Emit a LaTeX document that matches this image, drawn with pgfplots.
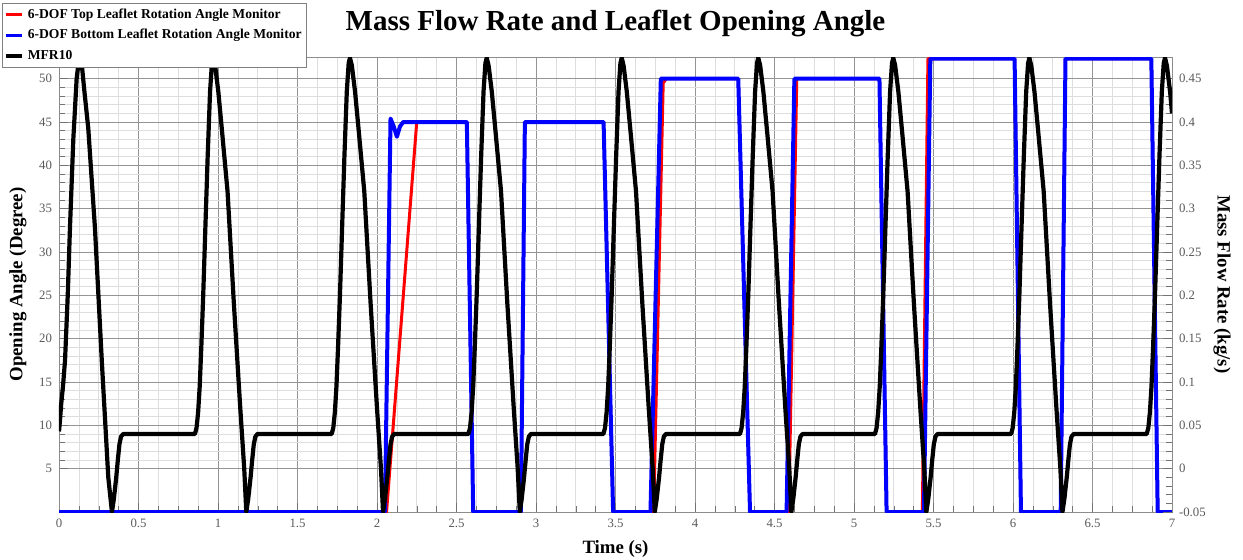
\documentclass[border=0pt]{standalone}
\usepackage{fontspec}
\setmainfont{Liberation Serif}
\usepackage{pgfplots}
\pgfplotsset{compat=1.18}
\definecolor{topred}{HTML}{FF0000}
\definecolor{botblue}{HTML}{0000FF}

\pgfplotsset{
  common/.style={
    width=556.5pt, height=227.5pt, scale only axis,
    xmin=0, xmax=7,
    tick label style={font=\fontsize{6.4}{7}\selectfont, text=black!65},
    /pgf/number format/assume math mode=true,
    tick style={black!55},
    axis line style={black!45},
  }
}

\begin{document}
\begin{tikzpicture}
\useasboundingbox (-29.5pt,-23.5pt) rectangle (592pt,256pt);
\begin{axis}[common,
  ymin=0, ymax=52.5,
  xtick={0,0.5,1,1.5,2,2.5,3,3.5,4,4.5,5,5.5,6,6.5,7},
  ytick={5,10,15,20,25,30,35,40,45,50},
  minor x tick num=3, minor y tick num=4,
  xtick pos=bottom, ytick pos=left,
  grid=both,
  major grid style={black!42, line width=0.45pt},
  minor grid style={black!13, line width=0.3pt},
  xlabel={Time (s)}, ylabel={Opening Angle (Degree)},
  label style={font=\fontsize{9.4}{11}\selectfont\bfseries},
  xlabel style={at={(axis description cs:0.5,-0.081)}, anchor=center},
  ylabel style={at={(axis description cs:-0.037,0.5)}, anchor=center},
  title={Mass Flow Rate and Leaflet Opening Angle},
  title style={font=\fontsize{14.5}{16}\selectfont\bfseries, at={(axis description cs:0.5,1)}, anchor=base, yshift=7.5pt},
]
% top leaflet
\addplot[topred, line width=1.5pt, line join=round] coordinates {
(0,0) (2.06,0) (2.25,45) (2.565,45) (2.605,0) (2.905,0) (2.93,45) (3.425,45) (3.485,0)
(3.74,0) (3.80,49.5) (3.82,50) (4.272,50) (4.346,0) (4.59,0) (4.64,50) (5.16,50) (5.205,0)
(5.43,0) (5.465,52.3) (6.01,52.3) (6.05,0) (6.30,0) (6.33,52.3) (6.87,52.3) (6.91,0) (7,0)
};
% bottom leaflet
\addplot[botblue, line width=2pt, line join=round] coordinates {
(0,0) (2.05,0) (2.085,45.4) (2.105,44.5) (2.125,43.3) (2.145,44.5) (2.165,45) (2.565,45) (2.605,0)
(2.905,0) (2.93,45) (3.425,45) (3.485,0) (3.72,0) (3.785,50) (4.272,50) (4.346,0)
(4.576,0) (4.625,50) (5.16,50) (5.205,0) (5.44,0) (5.48,52.3) (6.01,52.3) (6.05,0)
(6.30,0) (6.33,52.3) (6.87,52.3) (6.91,0) (7,0)
};
\end{axis}
\begin{axis}[common,
  ymin=-0.05, ymax=0.475,
  axis x line=none, axis y line*=right,
  ytick={-0.05,0,0.05,0.1,0.15,0.2,0.25,0.3,0.35,0.4,0.45},
  minor y tick num=4,
  scaled y ticks=false,
  yticklabel style={/pgf/number format/fixed, /pgf/number format/precision=2},
  ylabel={Mass Flow Rate (kg/s)},
  ylabel style={font=\fontsize{9.4}{11}\selectfont\bfseries, at={(axis description cs:1.045,0.5)}, anchor=center, rotate=180},
  legend style={at={(axis description cs:0,1)}, anchor=north west, xshift=-28.5pt, yshift=27pt,
    font=\fontsize{6.8}{8}\selectfont\bfseries, draw=black!50, fill=white, inner sep=0.6pt, row sep=0.1pt},
  legend cell align=left,
  legend image code/.code={\draw[#1] (0pt,0pt) -- (8pt,0pt);},
]
\addlegendimage{topred, line width=1.5pt}
\addlegendentry{6-DOF Top Leaflet Rotation Angle Monitor}
\addlegendimage{botblue, line width=1.5pt}
\addlegendentry{6-DOF Bottom Leaflet Rotation Angle Monitor}
\addplot[black, line width=2.1pt, line join=round] coordinates {
(0,0.043) (0.006,0.055) (0.013,0.073) (0.025,0.095) (0.038,0.125) (0.055,0.2) (0.069,0.278) (0.09,0.38) (0.111,0.45) (0.124,0.47) (0.132,0.474)
(0.144,0.465) (0.16,0.435) (0.184,0.393) (0.226,0.278) (0.269,0.125) (0.31,-0.01) (0.333,-0.05) (0.345,-0.035) (0.36,-0.01) (0.37,0.01) (0.38,0.028) (0.39,0.037) (0.404,0.04)
(0.855,0.04) (0.865,0.047) (0.875,0.065) (0.885,0.095) (0.895,0.14) (0.907,0.2) (0.92,0.275) (0.935,0.36) (0.95,0.435) (0.962,0.468) (0.97,0.474)
(0.982,0.465) (1.002,0.435) (1.025,0.39) (1.06,0.32) (1.1,0.19) (1.14,0.07) (1.165,0) (1.178,-0.05) (1.19,-0.035) (1.205,-0.01) (1.215,0.01) (1.225,0.028) (1.235,0.037) (1.248,0.04)
(1.715,0.04) (1.725,0.047) (1.735,0.065) (1.745,0.095) (1.755,0.14) (1.767,0.2) (1.78,0.275) (1.795,0.36) (1.81,0.435) (1.822,0.468) (1.83,0.474)
(1.842,0.465) (1.862,0.435) (1.885,0.39) (1.92,0.32) (1.96,0.19) (2.0,0.07) (2.025,0) (2.038,-0.05) (2.05,-0.035) (2.065,-0.01) (2.075,0.01) (2.085,0.028) (2.095,0.037) (2.108,0.04)
(2.575,0.04) (2.585,0.047) (2.595,0.065) (2.605,0.095) (2.615,0.14) (2.627,0.2) (2.64,0.275) (2.655,0.36) (2.67,0.435) (2.682,0.468) (2.69,0.474)
(2.702,0.465) (2.722,0.435) (2.745,0.39) (2.78,0.32) (2.82,0.19) (2.86,0.07) (2.885,0) (2.898,-0.05) (2.91,-0.035) (2.925,-0.01) (2.935,0.01) (2.945,0.028) (2.955,0.037) (2.968,0.04)
(3.424,0.04) (3.434,0.047) (3.444,0.065) (3.454,0.095) (3.464,0.14) (3.476,0.2) (3.489,0.275) (3.504,0.36) (3.519,0.435) (3.531,0.468) (3.539,0.474)
(3.551,0.465) (3.571,0.435) (3.594,0.39) (3.629,0.32) (3.669,0.19) (3.709,0.07) (3.734,0) (3.747,-0.05) (3.759,-0.035) (3.774,-0.01) (3.784,0.01) (3.794,0.028) (3.804,0.037) (3.817,0.04)
(4.283,0.04) (4.293,0.047) (4.303,0.065) (4.313,0.095) (4.323,0.14) (4.335,0.2) (4.348,0.275) (4.363,0.36) (4.378,0.435) (4.39,0.468) (4.398,0.474)
(4.41,0.465) (4.43,0.435) (4.453,0.39) (4.488,0.32) (4.528,0.19) (4.568,0.07) (4.593,0) (4.606,-0.05) (4.618,-0.035) (4.633,-0.01) (4.643,0.01) (4.653,0.028) (4.663,0.037) (4.676,0.04)
(5.132,0.04) (5.142,0.047) (5.152,0.065) (5.162,0.095) (5.172,0.14) (5.184,0.2) (5.197,0.275) (5.212,0.36) (5.227,0.435) (5.239,0.468) (5.247,0.474)
(5.259,0.465) (5.279,0.435) (5.302,0.39) (5.337,0.32) (5.377,0.19) (5.417,0.07) (5.442,0) (5.455,-0.05) (5.467,-0.035) (5.482,-0.01) (5.492,0.01) (5.502,0.028) (5.512,0.037) (5.525,0.04)
(5.988,0.04) (5.998,0.047) (6.008,0.065) (6.018,0.095) (6.028,0.14) (6.04,0.2) (6.053,0.275) (6.068,0.36) (6.083,0.435) (6.095,0.468) (6.103,0.474)
(6.115,0.465) (6.135,0.435) (6.158,0.39) (6.193,0.32) (6.233,0.19) (6.273,0.07) (6.298,0) (6.311,-0.05) (6.323,-0.035) (6.338,-0.01) (6.348,0.01) (6.358,0.028) (6.368,0.037) (6.381,0.04)
(6.841,0.04) (6.851,0.047) (6.861,0.065) (6.871,0.095) (6.881,0.14) (6.893,0.2) (6.906,0.275) (6.921,0.36) (6.936,0.435) (6.948,0.468) (6.956,0.474)
(6.968,0.465) (6.988,0.435) (7.0,0.41)
};
\addlegendentry{MFR10}
\end{axis}
\end{tikzpicture}
\end{document}
